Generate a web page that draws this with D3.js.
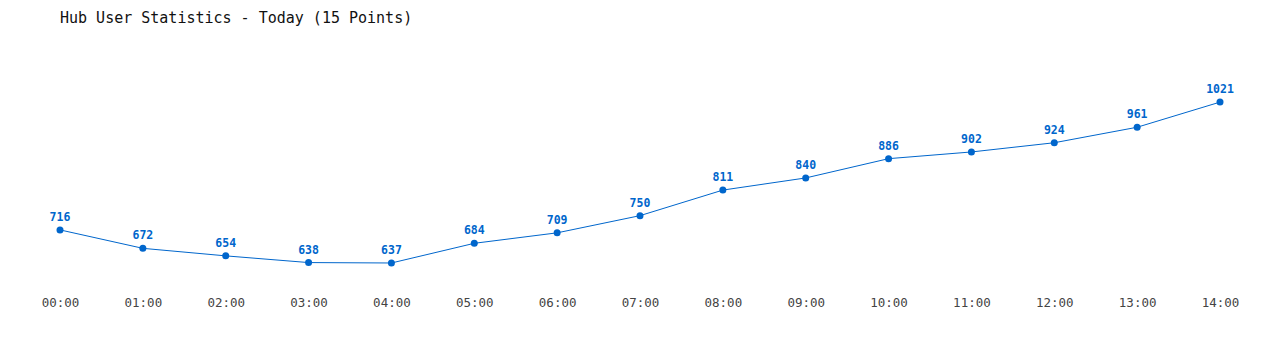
<!DOCTYPE html>
<html>
<head>
<meta charset="utf-8">
<script src="https://cdn.jsdelivr.net/npm/d3@7"></script>
<style>
  body { margin: 0; background: #fff; }
  svg text { font-family: "DejaVu Sans Mono", "Liberation Mono", monospace; }
</style>
</head>
<body>
<div id="chart"></div>
<script>
// data
const hours = ["00:00", "01:00", "02:00", "03:00", "04:00", "05:00", "06:00", "07:00",
  "08:00", "09:00", "10:00", "11:00", "12:00", "13:00", "14:00"];
const users = [716, 672, 654, 638, 637, 684, 709, 750, 811, 840, 886, 902, 924, 961, 1021];

const width = 1280,
  height = 350,
  margin = { top: 69, bottom: 71.5, left: 60, right: 60 };

const svg = d3.select("#chart")
  .append("svg")
  .attr("width", width)
  .attr("height", height)
  .style("text-rendering", "optimizeSpeed");

// title
svg.append("text")
  .attr("x", 60)
  .attr("y", 23)
  .attr("font-size", 15)
  .attr("fill", "#111")
  .text("Hub User Statistics - Today (15 Points)");

// scales
const xScale = d3.scalePoint()
  .domain(hours)
  .range([margin.left, width - margin.right]);

const yScale = d3.scaleLinear()
  .domain([600, 1100])
  .range([height - margin.bottom, margin.top]);

// x axis labels only
const xAxis = d3.axisBottom(xScale).tickSize(0).tickPadding(0);
const gx = svg.append("g")
  .attr("transform", `translate(0,${height - 52})`)
  .call(xAxis);
gx.select(".domain").remove();
gx.selectAll("text")
  .attr("font-family", "DejaVu Sans Mono, monospace")
  .attr("font-size", 12.5)
  .attr("fill", "#444")
  .attr("dy", "0.71em");

const line = d3.line()
  .x((d, i) => xScale(hours[i]))
  .y(d => yScale(d));

svg.append("path")
  .datum(users)
  .attr("fill", "none")
  .attr("stroke", "#0066cc")
  .attr("stroke-width", 1)
  .attr("d", line);

svg.selectAll(".dot")
  .data(users)
  .join("circle")
  .attr("class", "dot")
  .attr("cx", (d, i) => xScale(hours[i]))
  .attr("cy", d => yScale(d))
  .attr("r", 3.5)
  .attr("fill", "#0066cc");

svg.selectAll(".val")
  .data(users)
  .join("text")
  .attr("class", "val")
  .attr("x", (d, i) => xScale(hours[i]))
  .attr("y", d => yScale(d) - 9)
  .attr("text-anchor", "middle")
  .attr("font-size", 11.5)
  .attr("font-weight", "bold")
  .attr("fill", "#0066cc")
  .text(d => d);
</script>
</body>
</html>
